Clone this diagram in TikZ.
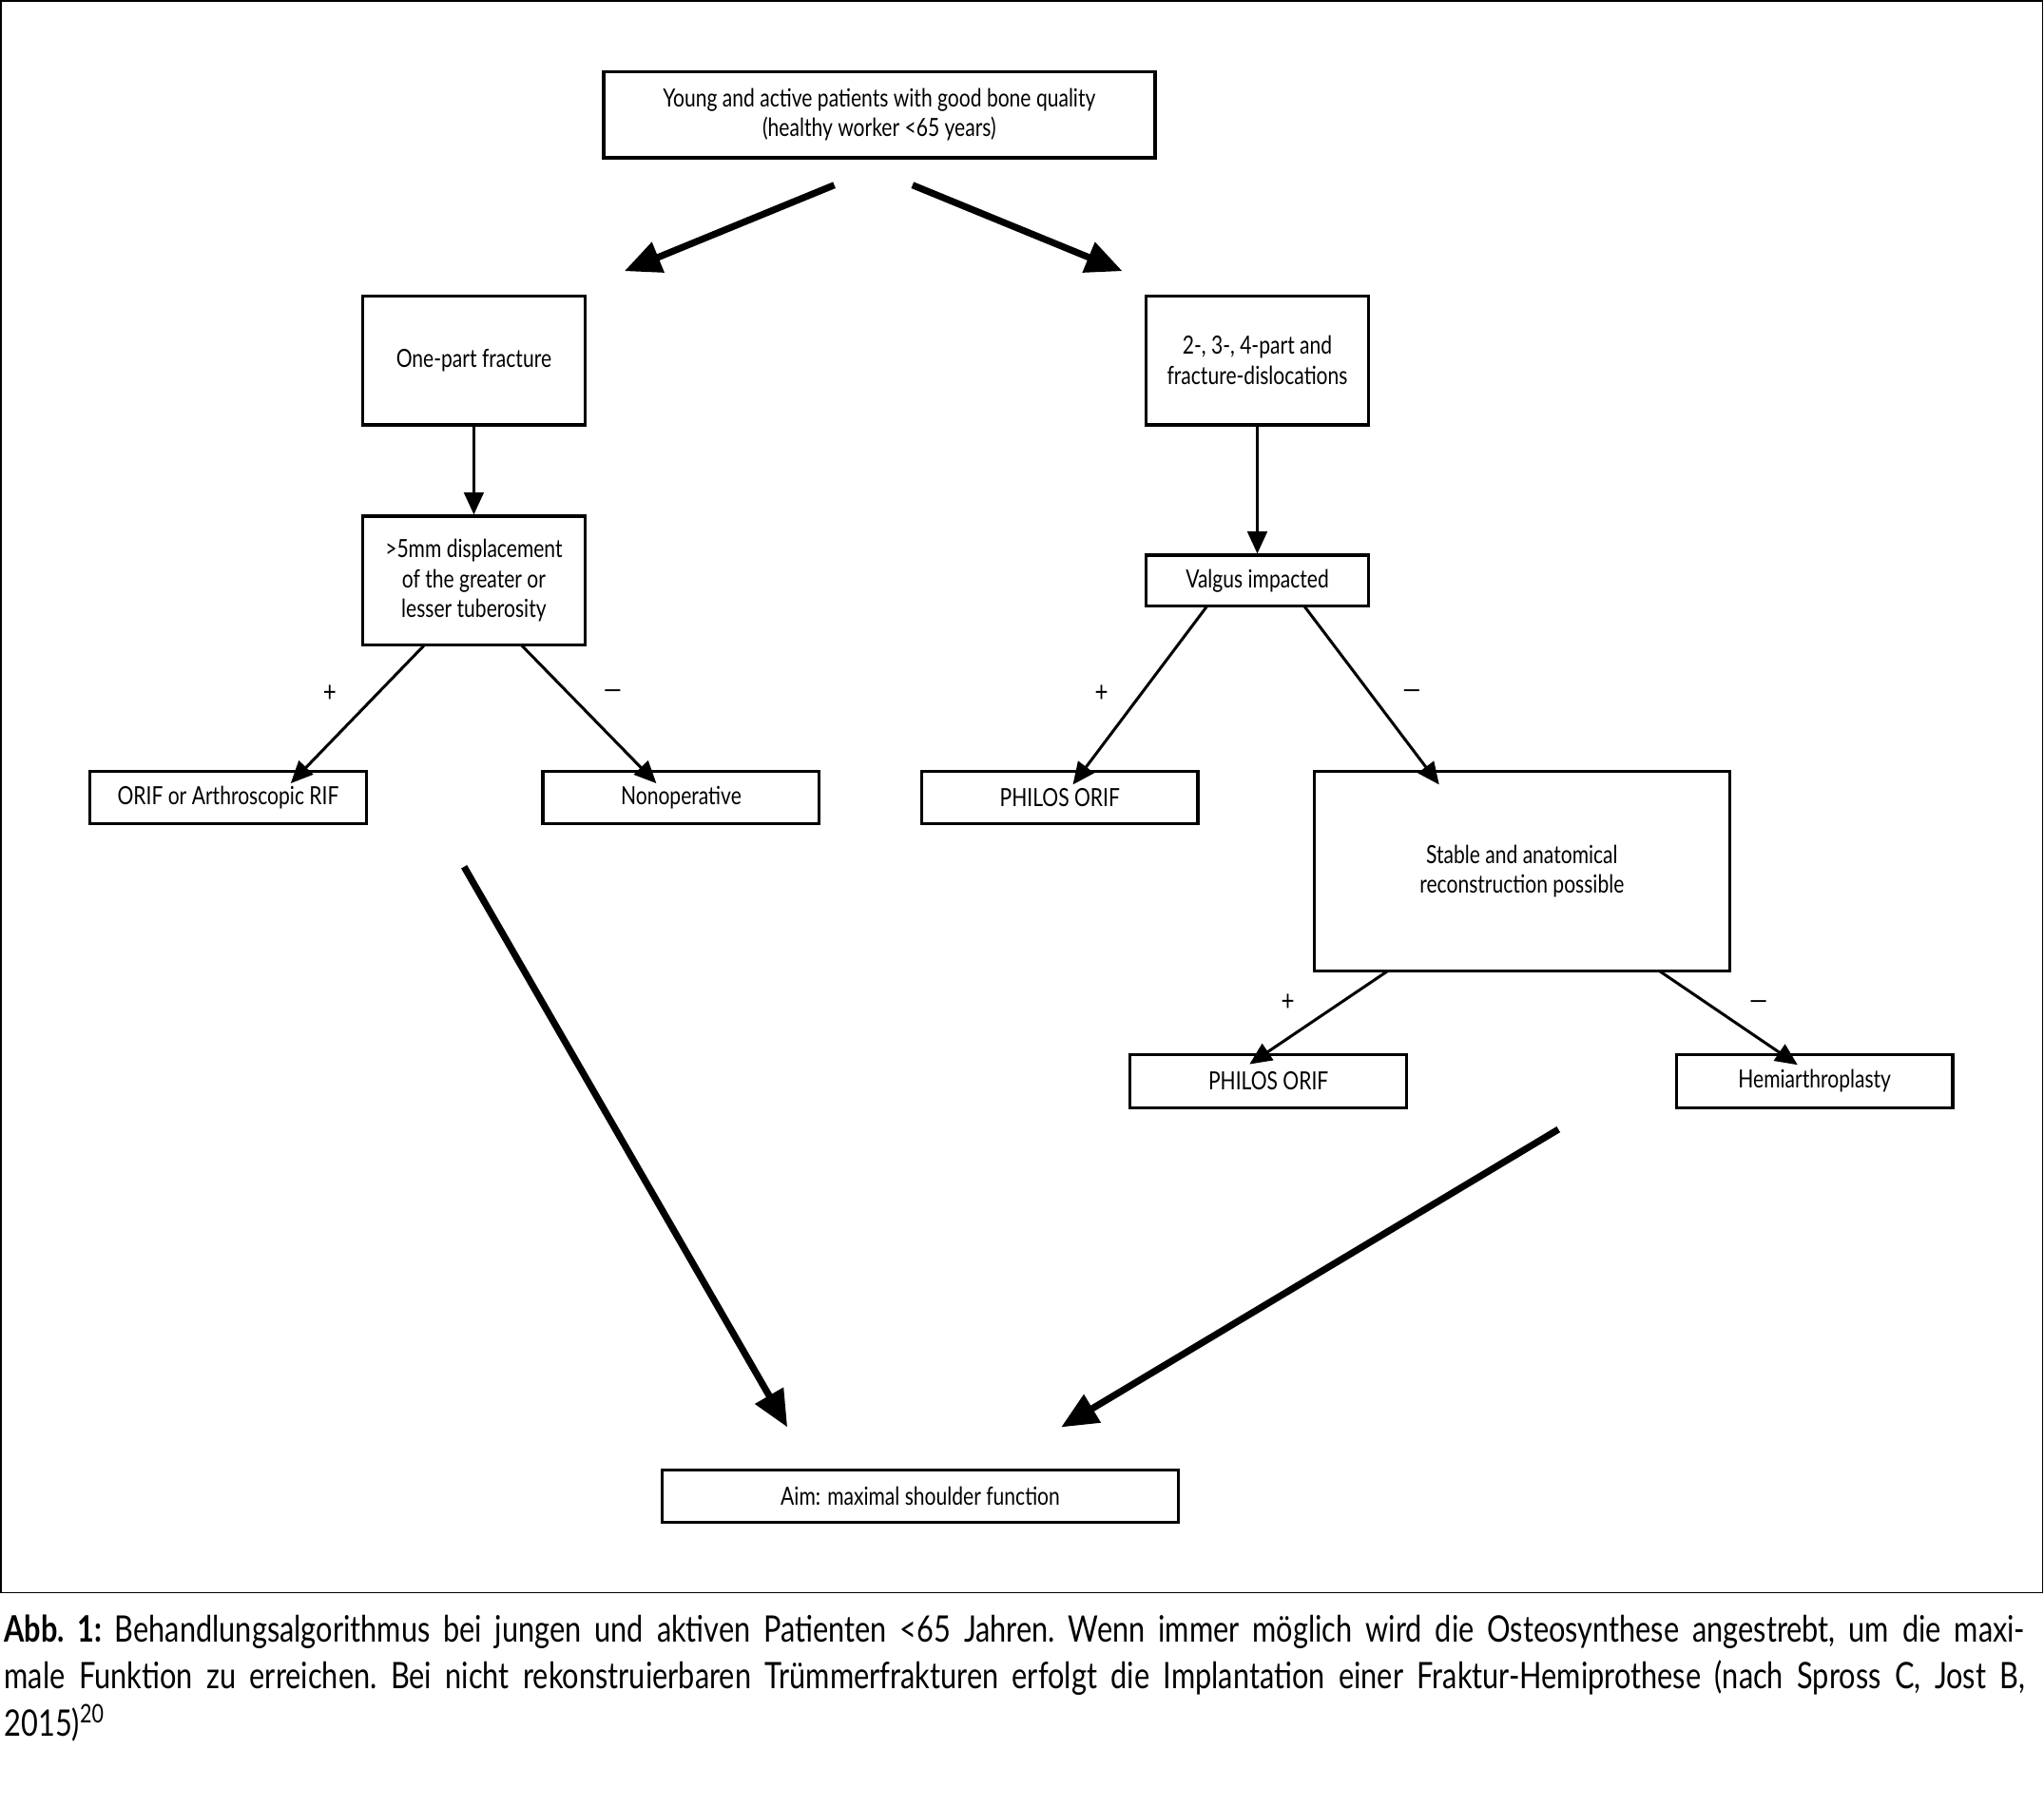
\documentclass[tikz,border=0pt]{standalone}
\usepackage{fontspec}
\setmainfont{Lato}[FakeStretch=0.8]
\usetikzlibrary{arrows.meta}
\begin{document}
\begin{tikzpicture}[x=0.5pt,y=-0.5pt,
  box/.style={draw,line width=1.2pt,inner sep=0pt,align=center,
    font=\fontsize{9.6}{11.5}\selectfont},
  thinarrow/.style={line width=1.1pt,-{Triangle[length=8.5pt,width=7.5pt]}},
  thickarrow/.style={line width=2.6pt,-{Triangle[length=14pt,width=12pt]}},
  sign/.style={font=\fontsize{11}{12}\selectfont,inner sep=0pt},
  caption/.style={anchor=west,inner sep=0pt,font=\fontsize{14}{17}\selectfont\frenchspacing}]
\useasboundingbox (0,0) rectangle (1568,1386);
\draw[line width=0.6pt] (0.5,0.5) rectangle (1567,1222);

% boxes
\node[box,minimum width=211.5pt,minimum height=33pt] (top) at (674.5,88)
  {Young and active patients with good bone quality\\(healthy worker <65 years)};
\node[box,minimum width=85.5pt,minimum height=49.5pt] (one) at (363.5,276.5) {One-part fracture};
\node[box,minimum width=85.5pt,minimum height=49.5pt] (multi) at (964.5,276.5) {2-, 3-, 4-part and\\fracture-dislocations};
\node[box,minimum width=85.5pt,minimum height=49.5pt] (five) at (363.5,445.5) {>5mm displacement\\of the greater or\\lesser tuberosity};
\node[box,minimum width=85.5pt,minimum height=19.5pt] (valgus) at (964.5,445.5) {Valgus impacted};
\node[box,minimum width=106pt,minimum height=20pt] (orif) at (175,612) {ORIF or Arthroscopic RIF};
\node[box,minimum width=106pt,minimum height=20pt] (nonop) at (522.5,612) {Nonoperative};
\node[box,minimum width=106pt,minimum height=20pt] (philosA) at (813,612) {PHILOS ORIF};
\node[box,minimum width=159.5pt,minimum height=76.5pt] (stable) at (1167.5,668.5) {Stable and anatomical\\reconstruction possible};
\node[box,minimum width=106pt,minimum height=20.5pt] (philosB) at (973,829.5) {PHILOS ORIF};
\node[box,minimum width=106pt,minimum height=20.5pt] (hemi) at (1392,829.5) {Hemiarthroplasty};
\node[box,minimum width=198pt,minimum height=20pt] (aim) at (706,1148) {Aim: maximal shoulder function};

% free ends of the arrows
\coordinate (t1) at (640,142);  \coordinate (t1e) at (479,208);
\coordinate (t2) at (700,142);  \coordinate (t2e) at (861,208);
\coordinate (f1) at (325.5,495); \coordinate (f1e) at (223,601);
\coordinate (f2) at (400,495);   \coordinate (f2e) at (503.5,601);
\coordinate (v1) at (926,465);   \coordinate (v1e) at (823,602);
\coordinate (v2) at (1000.5,465);\coordinate (v2e) at (1104,602);
\coordinate (s1) at (1064.5,745);\coordinate (s1e) at (958.5,816.5);
\coordinate (s2) at (1273,745);  \coordinate (s2e) at (1379,817);
\coordinate (b1) at (356,665);   \coordinate (b1e) at (604,1095);
\coordinate (b2) at (1195.5,866.5); \coordinate (b2e) at (814,1095);

% connectors
\draw[thickarrow] (t1) -- (t1e);
\draw[thickarrow] (t2) -- (t2e);
\draw[thinarrow] (one) -- (five);
\draw[thinarrow] (multi) -- (valgus);
\draw[thinarrow] (f1) -- (f1e);
\draw[thinarrow] (f2) -- (f2e);
\draw[thinarrow] (v1) -- (v1e);
\draw[thinarrow] (v2) -- (v2e);
\draw[thinarrow] (s1) -- (s1e);
\draw[thinarrow] (s2) -- (s2e);
\draw[thickarrow] (b1) -- (b1e);
\draw[thickarrow] (b2) -- (b2e);

% signs
\node[sign] (p1) at (253,532) {+};
\node[sign] (m1) at (470,533) {—};
\node[sign] (p2) at (845,532) {+};
\node[sign] (m2) at (1083,533) {—};
\node[sign] (p3) at (988,769) {+};
\node[sign] (m3) at (1349,771) {—};

% caption
\node[caption] (c1) at (3,1252) {\makebox[775pt][s]{\textbf{Abb. 1:} Behandlungsalgorithmus bei jungen und aktiven Patienten <65 Jahren. Wenn immer möglich wird die Osteosynthese angestrebt, um die maxi-}};
\node[caption] (c2) at (3,1287) {\makebox[775pt][s]{male Funktion zu erreichen. Bei nicht rekonstruierbaren Trümmerfrakturen erfolgt die Implantation einer Fraktur-Hemiprothese (nach Spross C, Jost B,}};
\node[caption] (c3) at (3,1322) {2015)\textsuperscript{20}};
\end{tikzpicture}
\end{document}
